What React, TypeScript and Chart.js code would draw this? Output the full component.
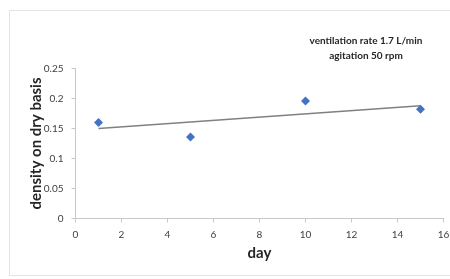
import React, { useEffect, useRef } from "react";
import { Chart, registerables } from "chart.js";

Chart.register(...registerables);

const days = [1, 5, 10, 15];
const density = [0.16, 0.136, 0.196, 0.182];
const trendDays = [1, 15];
const trendValues = [0.15, 0.188];
const xTicks = [0, 2, 4, 6, 8, 10, 12, 14, 16];
const yTicks = [0, 0.05, 0.1, 0.15, 0.2, 0.25];
const noteLines = ["ventilation rate 1.7 L/min", "agitation 50 rpm"];
const xTitle = "day";
const yTitle = "density on dry basis";

const FONT = "Lato, 'Open Sans', sans-serif";

const notePlugin = {
  id: "note",
  afterDraw(chart: any) {
    const ctx = chart.ctx;
    ctx.save();
    ctx.font = `bold 10px ${FONT}`;
    ctx.fillStyle = "#262626";
    ctx.textAlign = "center";
    ctx.textBaseline = "middle";
    ctx.fillText(noteLines[0], 366, 41);
    ctx.fillText(noteLines[1], 366, 56);
    ctx.restore();
  },
};

export default function App() {
  const ref = useRef<HTMLCanvasElement>(null);
  useEffect(() => {
    document.body.style.margin = "0";
    const chart = new Chart(ref.current!, {
      type: "scatter",
      data: {
        datasets: [
          {
            label: "density",
            data: days.map((d, i) => ({ x: d, y: density[i] })),
            pointStyle: "rectRot",
            pointRadius: 4.5,
            backgroundColor: "#4472C4",
            borderColor: "#4472C4",
            borderWidth: 0,
            order: 1,
          },
          {
            label: "trend",
            type: "line",
            data: trendDays.map((d, i) => ({ x: d, y: trendValues[i] })),
            borderColor: "#808080",
            borderWidth: 1.5,
            pointRadius: 0,
            fill: false,
            order: 2,
          } as any,
        ],
      },
      options: {
        animation: false,
        responsive: false,
        layout: { padding: { left: 0, top: 68.5, right: 6.5, bottom: 17 } },
        plugins: { legend: { display: false }, tooltip: { enabled: false } },
        scales: {
          x: {
            type: "linear",
            min: 0,
            max: 16,
            afterBuildTicks: (s: any) => {
              s.ticks = xTicks.map((v) => ({ value: v }));
            },
            afterFit: (s: any) => {
              s.height = 43.5;
              s.paddingLeft = 0;
              s.paddingRight = 0;
            },
            grid: {
              display: true,
              drawOnChartArea: false,
              drawTicks: true,
              tickLength: 4,
              color: "#c8c8c8",
            },
            border: { color: "#c8c8c8" },
            ticks: {
              padding: 6,
              color: "#404040",
              font: { family: FONT, size: 10 },
              maxRotation: 0,
            },
            title: {
              display: true,
              text: xTitle,
              color: "#262626",
              font: { family: FONT, size: 15, weight: "bold" },
              padding: { top: 3, bottom: 0 },
            },
          },
          y: {
            type: "linear",
            min: 0,
            max: 0.25,
            afterBuildTicks: (s: any) => {
              s.ticks = yTicks.map((v) => ({ value: v }));
            },
            afterFit: (s: any) => {
              s.width = 75.5;
              s.paddingTop = 0;
              s.paddingBottom = 0;
            },
            grid: {
              display: true,
              drawOnChartArea: false,
              drawTicks: true,
              tickLength: 4,
              color: "#c8c8c8",
            },
            border: { color: "#c8c8c8" },
            ticks: {
              padding: 8,
              color: "#404040",
              font: { family: FONT, size: 10 },
              callback: (v: any) => String(Number(v)),
            },
            title: {
              display: true,
              text: yTitle,
              color: "#262626",
              font: { family: FONT, size: 15, weight: "bold" },
              padding: { top: 27, bottom: 2 },
            },
          },
        },
      },
      plugins: [notePlugin],
    } as any);
    return () => chart.destroy();
  }, []);
  return (
    <div style={{ position: "relative", width: 450, height: 279, background: "#fff" }}>
      <div
        style={{
          position: "absolute",
          left: 9,
          top: 10,
          width: 460,
          height: 266,
          border: "1px solid #e4e4e4",
          boxSizing: "border-box",
        }}
      />
      <canvas ref={ref} width={450} height={279} style={{ position: "absolute", left: 0, top: 0 }} />
    </div>
  );
}
